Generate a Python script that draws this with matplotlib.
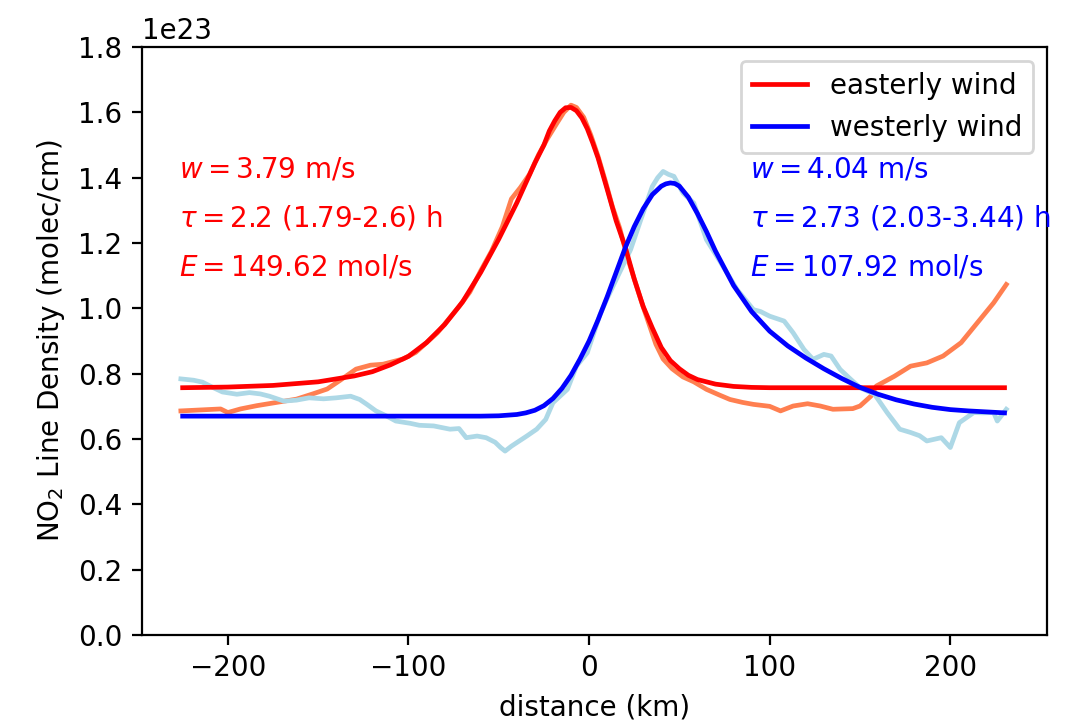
import matplotlib
matplotlib.use("Agg")
import matplotlib.pyplot as plt
import numpy as np

scale = 1e23

# observed line density, easterly wind (x in km, y in 1e23 molec/cm)
east_x = [-226, -215, -204, -200, -193, -184, -173, -162, -153, -145, -138, -129, -121, -114,
          -103, -96, -90, -84, -78, -72, -66, -60, -54, -48, -43, -38, -33, -28, -23, -18,
          -14, -10, -7, -3, 1, 5, 9, 13, 17, 21, 25, 29, 33, 37, 41, 46, 52, 58, 65, 72,
          78, 85, 91, 100, 106, 113, 121, 128, 135, 146, 150, 156, 159, 169, 178, 187,
          196, 206, 215, 224, 231]
east_y = [0.686, 0.689, 0.692, 0.681, 0.692, 0.702, 0.712, 0.722, 0.738, 0.753, 0.779, 0.814,
          0.826, 0.829, 0.845, 0.865, 0.895, 0.925, 0.965, 1.005, 1.050, 1.115, 1.175, 1.250,
          1.335, 1.370, 1.410, 1.470, 1.520, 1.565, 1.600, 1.622, 1.615, 1.585, 1.530, 1.465,
          1.390, 1.310, 1.245, 1.160, 1.090, 1.020, 0.955, 0.890, 0.845, 0.815, 0.790, 0.775,
          0.752, 0.735, 0.721, 0.712, 0.706, 0.700, 0.686, 0.701, 0.708, 0.701, 0.691, 0.693,
          0.701, 0.731, 0.762, 0.792, 0.823, 0.833, 0.854, 0.895, 0.956, 1.017, 1.073]

# observed line density, westerly wind
west_x = [-226, -219, -214, -208, -203, -195, -188, -182, -177, -169, -162, -155, -147, -140,
          -132, -127, -123, -118, -112, -107, -99, -94, -86, -77, -72, -68, -62, -57, -52,
          -49, -46.5, -43, -40, -34.5, -29, -24, -20, -12, -7, -1, 6, 10, 15, 23, 28, 35,
          38, 41, 44, 47, 52, 58, 65, 73, 82, 91, 95, 100, 108, 113, 119, 124, 130, 134,
          139, 145, 150, 158, 165, 172, 178, 183, 187, 195, 200, 205, 213, 218, 224, 226, 231]
west_y = [0.784, 0.780, 0.774, 0.757, 0.744, 0.737, 0.742, 0.738, 0.731, 0.716, 0.719, 0.726,
          0.723, 0.726, 0.731, 0.721, 0.706, 0.686, 0.670, 0.655, 0.648, 0.642, 0.640, 0.630,
          0.632, 0.604, 0.609, 0.604, 0.590, 0.574, 0.563, 0.578, 0.589, 0.609, 0.630, 0.660,
          0.711, 0.752, 0.823, 0.864, 0.980, 1.030, 1.088, 1.180, 1.261, 1.373, 1.400, 1.419,
          1.410, 1.404, 1.353, 1.322, 1.210, 1.139, 1.057, 0.996, 0.990, 0.976, 0.961, 0.925,
          0.874, 0.844, 0.859, 0.854, 0.813, 0.782, 0.757, 0.737, 0.681, 0.630, 0.620, 0.610,
          0.594, 0.604, 0.574, 0.650, 0.681, 0.680, 0.681, 0.655, 0.691]

# fitted curves
east_fit_x = [-225, -200, -175, -150, -130, -120, -110, -100, -90, -80, -70, -60, -50, -40,
              -30, -25, -22, -19, -16, -13, -10, -7, -4, -1, 2, 5, 10, 15, 20, 25, 30, 35,
              40, 45, 50, 55, 60, 70, 80, 90, 100, 230]
east_fit_y = [0.757, 0.759, 0.764, 0.775, 0.793, 0.806, 0.827, 0.853, 0.895, 0.950, 1.020,
              1.110, 1.212, 1.323, 1.445, 1.500, 1.543, 1.574, 1.600, 1.614, 1.615, 1.605,
              1.583, 1.550, 1.507, 1.460, 1.365, 1.268, 1.188, 1.090, 1.005, 0.940, 0.880,
              0.840, 0.815, 0.795, 0.782, 0.768, 0.761, 0.758, 0.757, 0.757]

west_fit_x = [-225, -100, -60, -50, -40, -35, -30, -25, -20, -15, -10, -5, 0, 5, 10, 15, 20,
              25, 30, 35, 40, 42.5, 45, 47.5, 50, 55, 60, 65, 70, 80, 90, 100, 110, 120, 130,
              140, 150, 160, 170, 180, 190, 200, 210, 220, 230]
west_fit_y = [0.670, 0.670, 0.670, 0.671, 0.675, 0.680, 0.688, 0.702, 0.724, 0.755, 0.795,
              0.845, 0.900, 0.965, 1.035, 1.110, 1.185, 1.250, 1.305, 1.348, 1.374, 1.381,
              1.384, 1.382, 1.374, 1.340, 1.290, 1.235, 1.175, 1.070, 0.990, 0.930, 0.885,
              0.848, 0.815, 0.785, 0.758, 0.737, 0.720, 0.707, 0.697, 0.690, 0.686, 0.683,
              0.680]

east_txt = ["$w = 3.79$ m/s", r"$\tau = 2.2$ (1.79-2.6) h", "$E = 149.62$ mol/s"]
west_txt = ["$w = 4.04$ m/s", r"$\tau = 2.73$ (2.03-3.44) h", "$E = 107.92$ mol/s"]
txt_y = [1.4, 1.25, 1.1]

fig = plt.figure(figsize=(5.38, 3.61), dpi=200)
ax = fig.add_axes([0.132, 0.1205, 0.841, 0.8144])

ax.plot(east_x, np.array(east_y) * scale, color="coral", lw=1.7)
ax.plot(west_x, np.array(west_y) * scale, color="lightblue", lw=1.7)
ax.plot(east_fit_x, np.array(east_fit_y) * scale, color="red", lw=1.7, label="easterly wind")
ax.plot(west_fit_x, np.array(west_fit_y) * scale, color="blue", lw=1.7, label="westerly wind")

for t, y in zip(east_txt, txt_y):
    ax.text(-227, y * scale, t, color="red", fontsize=10)
for t, y in zip(west_txt, txt_y):
    ax.text(89, y * scale, t, color="blue", fontsize=10)

ax.set_xlim(-247.5, 253.5)
ax.set_ylim(0, 1.8e23)
ax.set_xlabel("distance (km)")
ax.set_ylabel("NO$_2$ Line Density (molec/cm)")
ax.legend(loc="upper right")

fig.savefig("out.png", dpi=200)
